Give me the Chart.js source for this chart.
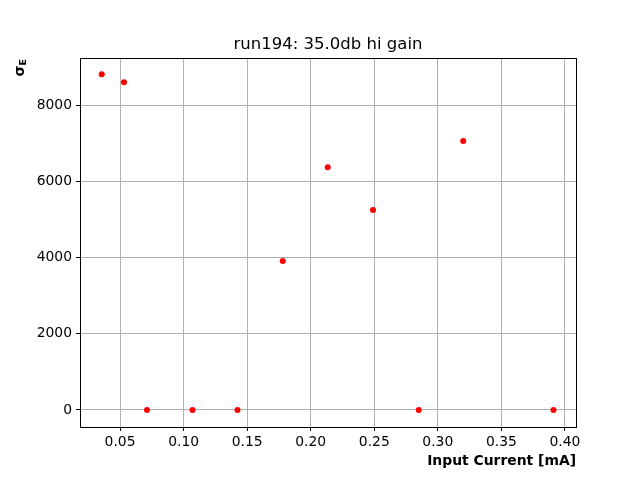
<!DOCTYPE html>
<html>
<head>
<meta charset="utf-8">
<script src="https://cdn.jsdelivr.net/npm/chart.js@4/dist/chart.umd.min.js"></script>
<style>
  html, body { margin: 0; padding: 0; background: #fff; }
  #wrap { width: 640px; height: 480px; }
</style>
</head>
<body>
<div id="wrap"><canvas id="chart" width="640" height="480"></canvas></div>
<script>
// data
const inputCurrent = [0.0356, 0.0531, 0.0712, 0.1070, 0.1424, 0.1780, 0.2134, 0.2490, 0.2850, 0.3200, 0.3910];
const sigmaE = [8810, 8600, 0, 0, 0, 3910, 6370, 5245, 0, 7055, 0];
const xTicks = [0.05, 0.10, 0.15, 0.20, 0.25, 0.30, 0.35, 0.40];
const yTicks = [0, 2000, 4000, 6000, 8000];
const chartTitle = 'run194: 35.0db hi gain';
const xLabel = 'Input Current [mA]';

const points = inputCurrent.map((x, i) => ({ x: x, y: sigmaE[i] }));

const FONT = 'DejaVu Sans';

// title over the plot area, the frame and the rotated sigma_E label
const textPlugin = {
    id: 'texts',
    afterDraw(chart) {
        const ctx = chart.ctx;
        const area = chart.chartArea;
        ctx.save();
        // full box round the plot like matplotlib
        ctx.strokeStyle = '#000';
        ctx.lineWidth = 1;
        ctx.strokeRect(Math.round(area.left) + 0.5, Math.round(area.top) + 0.5,
            Math.round(area.right - area.left), Math.round(area.bottom - area.top));

        ctx.fillStyle = '#000';
        ctx.font = '16.5px "' + FONT + '"';
        ctx.textAlign = 'center';
        ctx.textBaseline = 'alphabetic';
        ctx.fillText(chartTitle, (area.left + area.right) / 2, area.top - 9);

        // y label: sigma with subscript E, bold, aligned to top
        ctx.translate(24, area.top);
        ctx.rotate(-Math.PI / 2);
        ctx.textAlign = 'left';
        ctx.font = 'bold 14px "' + FONT + '"';
        const ws = ctx.measureText('σ').width;
        ctx.font = 'bold 9.5px "' + FONT + '"';
        const we = ctx.measureText('E').width;
        const start = -(ws + we) - 1;
        ctx.font = 'bold 14px "' + FONT + '"';
        ctx.fillText('σ', start, 0);
        ctx.font = 'bold 9.5px "' + FONT + '"';
        ctx.fillText('E', start + ws, 2);
        ctx.restore();
    }
};

new Chart(document.getElementById('chart').getContext('2d'), {
    type: 'scatter',
    data: {
        datasets: [{
            data: points,
            backgroundColor: '#ff0000',
            borderColor: '#ff0000',
            pointRadius: 3,
            pointHoverRadius: 3,
            borderWidth: 0
        }]
    },
    options: {
        responsive: false,
        animation: false,
        layout: { padding: { left: 0, right: 64, top: 58, bottom: 0 } },
        plugins: {
            legend: { display: false },
            tooltip: { enabled: false },
            title: { display: false }
        },
        scales: {
            x: {
                type: 'linear',
                min: 0.0185,
                max: 0.4087,
                afterFit: s => { s.height = 53; },
                afterBuildTicks: s => { s.ticks = xTicks.map(v => ({ value: v })); },
                ticks: {
                    color: '#000',
                    padding: 3,
                    font: { family: FONT, size: 13.9 },
                    callback: v => v.toFixed(2),
                    maxRotation: 0,
                    autoSkip: false
                },
                grid: { color: '#b0b0b0', lineWidth: 1, tickLength: 4, tickColor: '#000' },
                border: { color: '#000', width: 1 },
                title: {
                    display: true,
                    text: xLabel,
                    align: 'end',
                    color: '#000',
                    font: { family: FONT, size: 13.9, weight: 'bold' },
                    padding: { top: 0, bottom: 10 }
                }
            },
            y: {
                type: 'linear',
                min: -446,
                max: 9233,
                afterFit: s => { s.width = 80; },
                afterBuildTicks: s => { s.ticks = yTicks.map(v => ({ value: v })); },
                ticks: {
                    color: '#000',
                    padding: 4,
                    font: { family: FONT, size: 13.9 },
                    callback: v => String(Math.round(v)),
                    autoSkip: false
                },
                grid: { color: '#b0b0b0', lineWidth: 1, tickLength: 4, tickColor: '#000' },
                border: { color: '#000', width: 1 }
            }
        }
    },
    plugins: [textPlugin]
});
</script>
</body>
</html>
